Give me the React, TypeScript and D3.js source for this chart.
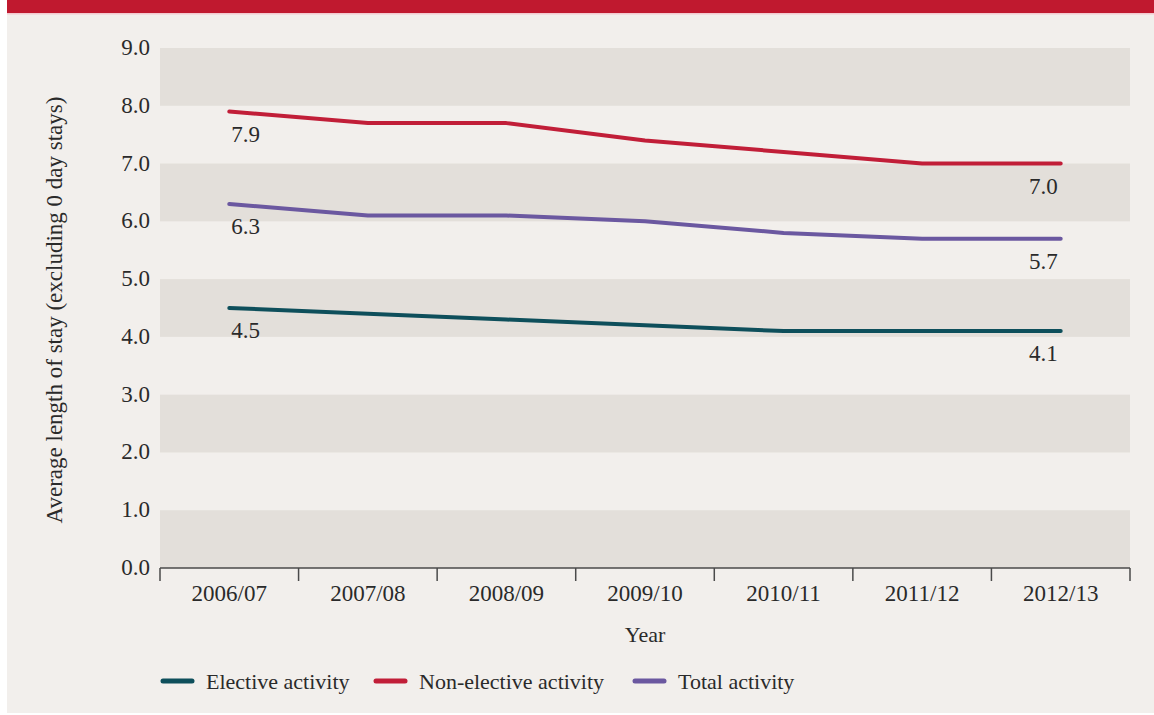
import React from "react";
import * as d3 from "d3";

const years = ["2006/07", "2007/08", "2008/09", "2009/10", "2010/11", "2011/12", "2012/13"];
const elective = [4.5, 4.4, 4.3, 4.2, 4.1, 4.1, 4.1];
const nonElective = [7.9, 7.7, 7.7, 7.4, 7.2, 7.0, 7.0];
const total = [6.3, 6.1, 6.1, 6.0, 5.8, 5.7, 5.7];
const yTicks = [0, 1, 2, 3, 4, 5, 6, 7, 8, 9];
const seriesNames = ["Elective activity", "Non-elective activity", "Total activity"];

const W = 1154, H = 715;
const left = 160, right = 1130, top = 48, bottom = 568;
const FONT = "'Liberation Serif', 'DejaVu Serif', serif";
const colors = ["#0e4f5b", "#c11e38", "#6b58a0"];

export default function App() {
  const x = d3.scaleBand<string>().domain(years).range([left, right]).padding(0);
  const y = d3.scaleLinear().domain([0, 9]).range([bottom, top]);
  const cx = (yr: string) => (x(yr) as number) + x.bandwidth() / 2;
  const line = d3.line<[string, number]>().x((d) => cx(d[0])).y((d) => y(d[1])).curve(d3.curveLinear);
  const series = [elective, nonElective, total];
  const legendX = [161, 374, 633];
  const boundaries = [...years.map((yr) => x(yr) as number), right];

  return (
    <svg width={W} height={H} style={{ position: "absolute", left: 0, top: 0 }} fontFamily={FONT}>
      <rect x={0} y={0} width={W} height={H} fill="#ffffff" />
      <rect x={7} y={0} width={W - 7} height={713} fill="#f2efec" />
      <rect x={7} y={0} width={W - 7} height={13} fill="#c0192f" />
      <rect x={7} y={13} width={W - 7} height={1.5} fill="#f3c9cf" />
      {yTicks.filter((t) => t % 2 === 0 && t < 9).map((t) => (
        <rect key={"b" + t} x={left} y={y(t + 1)} width={right - left} height={y(t) - y(t + 1)} fill="#e3dfda" />
      ))}
      {yTicks.map((t) => (
        <text key={"yt" + t} x={150} y={y(t) + 7} textAnchor="end" fontSize={23} fill="#2a2a2a">
          {t.toFixed(1)}
        </text>
      ))}
      <line x1={left} x2={right} y1={bottom} y2={bottom} stroke="#4a4a4a" strokeWidth={1.5} />
      {boundaries.map((bx, i) => (
        <line key={"tk" + i} x1={bx} x2={bx} y1={bottom} y2={bottom + 13} stroke="#4a4a4a" strokeWidth={1.5} />
      ))}
      {years.map((yr) => (
        <text key={"xt" + yr} x={cx(yr)} y={601} textAnchor="middle" fontSize={23} fill="#2a2a2a">
          {yr}
        </text>
      ))}
      <text x={645} y={642} textAnchor="middle" fontSize={22} fill="#2a2a2a">Year</text>
      <text transform={`translate(62,310) rotate(-90)`} textAnchor="middle" fontSize={23} fill="#2a2a2a">
        Average length of stay (excluding 0 day stays)
      </text>
      {series.map((s, i) => (
        <path key={"l" + i} d={line(years.map((yr, j) => [yr, s[j]] as [string, number])) || ""}
          fill="none" stroke={colors[i]} strokeWidth={4} strokeLinecap="round" strokeLinejoin="round" />
      ))}
      {series.map((s, i) => (
        <g key={"lab" + i}>
          <text x={cx(years[0]) + 2} y={y(s[0]) + 30} fontSize={23} fill="#2a2a2a">{s[0].toFixed(1)}</text>
          <text x={cx(years[years.length - 1]) - 3} y={y(s[s.length - 1]) + 30} textAnchor="end" fontSize={23} fill="#2a2a2a">
            {s[s.length - 1].toFixed(1)}
          </text>
        </g>
      ))}
      {seriesNames.map((n, i) => (
        <g key={"lg" + i}>
          <line x1={legendX[i] + 2} x2={legendX[i] + 31} y1={681} y2={681} stroke={colors[i]} strokeWidth={5} strokeLinecap="round" />
          <text x={legendX[i] + 45} y={689} fontSize={22} fill="#2a2a2a">{n}</text>
        </g>
      ))}
    </svg>
  );
}
